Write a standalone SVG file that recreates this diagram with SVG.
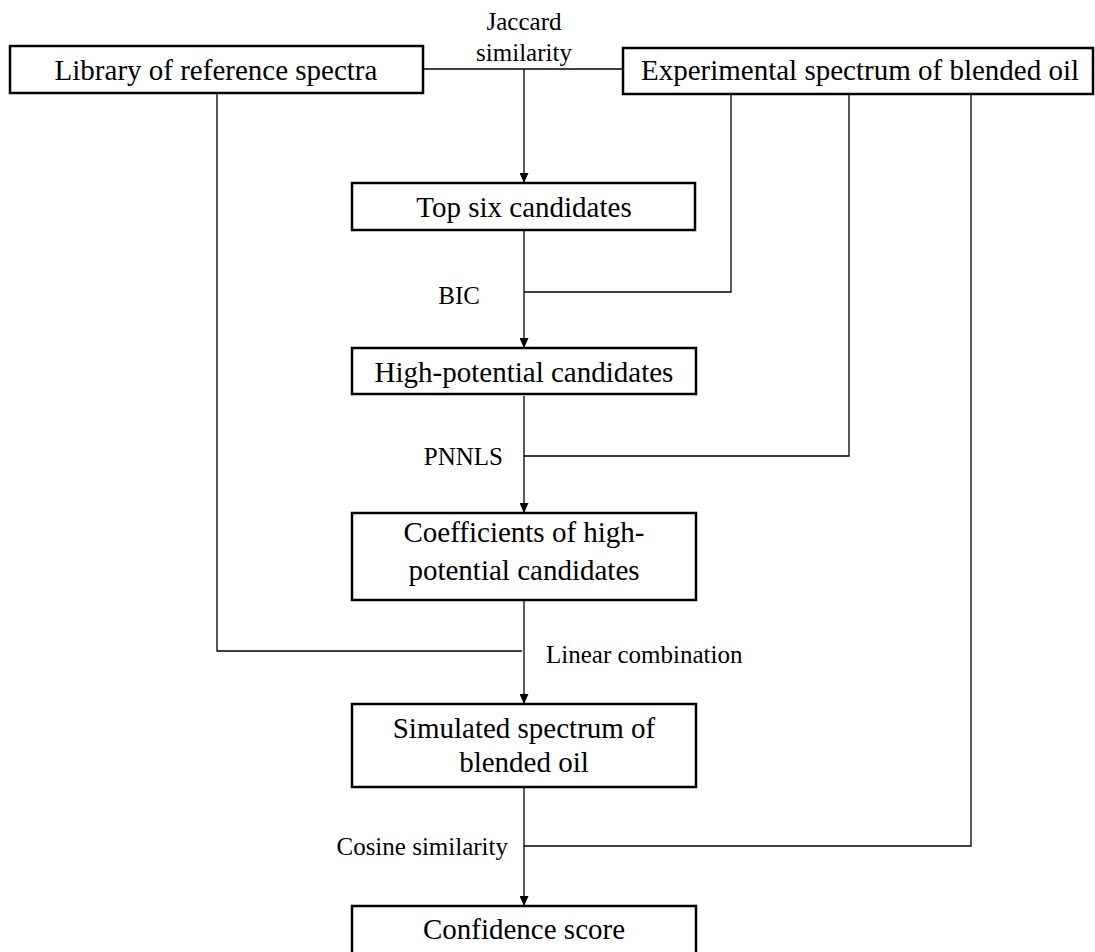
<svg xmlns="http://www.w3.org/2000/svg" width="1095" height="952" viewBox="0 0 1095 952">
<style>
.box{fill:#fff;stroke:#000;stroke-width:2.5}
.nt{font-family:"Liberation Serif","Times New Roman",serif;font-size:29px;fill:#000;text-anchor:middle}
.lb{font-family:"Liberation Serif","Times New Roman",serif;font-size:25px;fill:#000}
.ln{fill:none;stroke:#000;stroke-width:1.3}
</style>
<defs>
<marker id="ah" markerUnits="userSpaceOnUse" markerWidth="10" markerHeight="9" refX="10" refY="4.5" orient="auto" viewBox="0 0 10 9">
<path d="M0,0 L10,4.5 L0,9 z" fill="#000"/>
</marker>
</defs>
<rect width="1095" height="952" fill="#fff"/>
<g id="connectors">
<path class="ln" d="M423,69 H623"/>
<path class="ln" d="M524,69 V183" marker-end="url(#ah)"/>
<path class="ln" d="M524,230 V348" marker-end="url(#ah)"/>
<path class="ln" d="M731,94 V292 H524"/>
<path class="ln" d="M524,396 V513" marker-end="url(#ah)"/>
<path class="ln" d="M849,94 V456 H524"/>
<path class="ln" d="M524,600 V704" marker-end="url(#ah)"/>
<path class="ln" d="M217,93 V651 H522"/>
<path class="ln" d="M524,787 V906" marker-end="url(#ah)"/>
<path class="ln" d="M971,94 V846 H524"/>
</g>
<g id="labels">
<text class="lb" x="524" y="30" text-anchor="middle">Jaccard</text>
<text class="lb" x="524" y="61" text-anchor="middle">similarity</text>
<text class="lb" x="480" y="304" text-anchor="end">BIC</text>
<text class="lb" x="503" y="465" text-anchor="end">PNNLS</text>
<text class="lb" x="546" y="663">Linear combination</text>
<text class="lb" x="508" y="855" text-anchor="end">Cosine similarity</text>
</g>
<g id="library">
<rect class="box" x="10" y="46" width="413" height="47"/>
<text class="nt" x="216" y="80">Library of reference spectra</text>
</g>
<g id="experimental">
<rect class="box" x="623" y="48" width="470" height="46"/>
<text class="nt" x="860" y="80">Experimental spectrum of blended oil</text>
</g>
<g id="topsix">
<rect class="box" x="352" y="183" width="343" height="47"/>
<text class="nt" x="524" y="217">Top six candidates</text>
</g>
<g id="highpotential">
<rect class="box" x="352" y="348" width="344" height="46"/>
<text class="nt" x="524" y="382">High-potential candidates</text>
</g>
<g id="coefficients">
<rect class="box" x="352" y="513" width="344" height="87"/>
<text class="nt" x="524" y="542">Coefficients of high-</text>
<text class="nt" x="524" y="580">potential candidates</text>
</g>
<g id="simulated">
<rect class="box" x="352" y="704" width="344" height="83"/>
<text class="nt" x="524" y="738">Simulated spectrum of</text>
<text class="nt" x="524" y="772">blended oil</text>
</g>
<g id="confidence">
<rect class="box" x="352" y="906" width="344" height="50"/>
<text class="nt" x="524" y="939">Confidence score</text>
</g>
</svg>
